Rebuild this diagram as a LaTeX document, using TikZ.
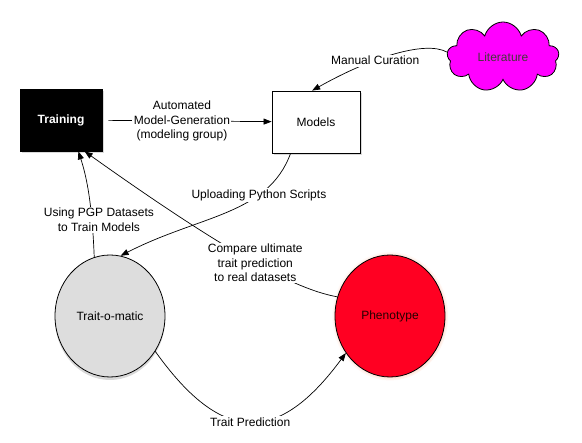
\documentclass[tikz,border=0pt]{standalone}
\usepackage{fontspec}
\setmainfont{Liberation Sans}
\usetikzlibrary{positioning,arrows.meta,shapes.geometric,shapes.symbols,shadows}
\definecolor{tkMagenta}{RGB}{255,0,255}
\definecolor{tkRed}{RGB}{255,0,34}
\definecolor{tkGray}{RGB}{221,221,221}

\begin{document}
\begin{tikzpicture}[
  x=1pt, y=-1pt,
  font=\fontsize{12}{14.5}\selectfont,
  box/.style={draw, line width=0.8pt, minimum height=62pt, inner sep=2pt, align=center,
    drop shadow={shadow xshift=1.5pt, shadow yshift=-2pt, opacity=0.3}},
  blob/.style={draw, line width=0.8pt, ellipse, minimum width=110pt, minimum height=122pt, inner sep=0pt},
  arr/.style={-{Triangle[length=8pt, width=6pt]}, line width=0.7pt},
  lbl/.style={fill=white, inner sep=1.5pt, align=center},
]
\useasboundingbox (0,0) rectangle (582,443);
% boxes
\node[box, fill=black, text=white, minimum width=82pt] (train) at (61,120) {\textbf{Training}};
\node[box, fill=white, minimum width=88pt] (models) at (316,122) {Models};
\node[cloud, draw, line width=0.8pt, fill=tkMagenta, text=black!85!magenta, cloud puffs=9, aspect=1.6,
  minimum width=112pt, minimum height=70pt] (lit) at (503,57) {Literature};
% circles
\node[blob, fill=tkGray, drop shadow={shadow xshift=0pt, shadow yshift=-3pt, opacity=0.3}] (tom) at (110,316) {Trait-o-matic};
\node[blob, fill=tkRed, text=black!85!red, circular glow={fill=orange!60!red, shadow scale=1.06, opacity=0.35}] (pheno) at (390,316) {Phenotype};
% links
\draw[arr, shorten <=6pt] (train) -- node[lbl, pos=0.47] {Automated\\Model-Generation\\(modeling group)} (models);
\draw[arr] (lit.175) .. controls (425,40) and (370,58) .. node[lbl, pos=0.62] {Manual Curation} (models.97);
\draw[arr] (models.-129) .. controls (268,215) and (200,215) .. node[lbl, pos=0.3] {Uploading Python Scripts} (tom.80);
\draw[arr] (tom.105) .. controls (92,200) and (86,175) .. node[lbl, pos=0.25, xshift=7pt] {Using PGP Datasets\\to Train Models} (train.-61);
\draw[arr] (pheno.160) .. controls (300,290) and (240,262) .. node[lbl] {Compare ultimate\\trait prediction\\to real datasets} (train.-53);
\draw[arr] (tom.-38) .. controls (222,445) and (278,445) .. node[lbl] {Trait Prediction} (pheno.220);
\end{tikzpicture}
\end{document}
